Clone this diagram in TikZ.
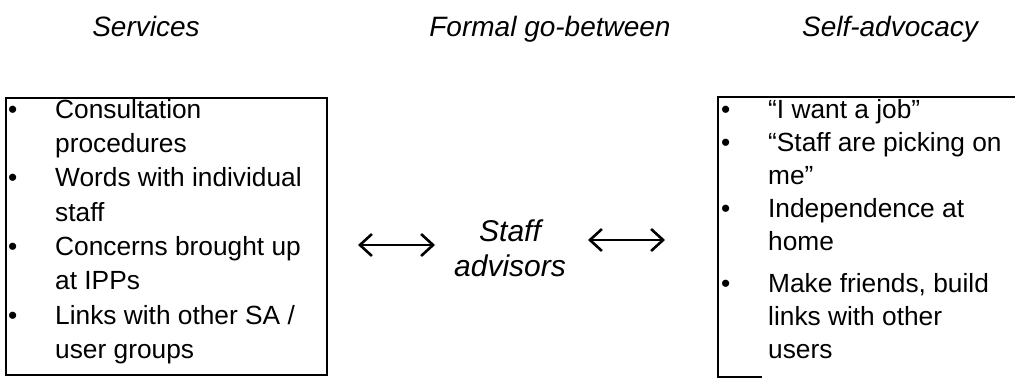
\documentclass[tikz,border=0pt]{standalone}
\usepackage{fontspec}
\setmainfont{Liberation Sans}
\usetikzlibrary{arrows.meta}
\usepackage{array}
\begin{document}
\begin{tikzpicture}[x=1pt,y=-1pt,
  heading/.style={font=\fontsize{28}{32}\selectfont\itshape, inner sep=0pt, anchor=base},
  boxline/.style={line width=1.7pt},
  listtext/.style={inner sep=0pt, anchor=north west, align=left},
  barb/.tip={Straight Barb[length=12pt,width=22pt,line width=2.6pt]},
  twoway/.style={barb-barb, line width=2.6pt}]
\useasboundingbox (0,0) rectangle (1015,380);

% column headings
\node[heading] (h1) at (146,36) {Services};
\node[heading] (h2) at (550,36) {Formal go-between};
\node[heading] (h3) at (890,36) {Self-advocacy};

% services box
\node[draw, boxline, minimum width=321pt, minimum height=277pt, anchor=north west, inner sep=0pt] (lbox) at (5,97) {};
\node[listtext] (ltext) at (8,94) {\fontsize{26.3}{34.3}\selectfont
\begin{tabular}{@{}p{47pt}@{}l@{}}
\textbullet & Consultation\\
 & procedures\\
\textbullet & Words with individual\\
 & staff\\
\textbullet & Concerns brought up\\
 & at IPPs\\
\textbullet & Links with other SA /\\
 & user groups
\end{tabular}};

% self-advocacy box (open on the right)
\coordinate (rtl) at (718,97);
\coordinate (rtr) at (1015,97);
\coordinate (rbl) at (718,377);
\coordinate (rbr) at (762,377);
\draw[boxline] (rtr) -- (rtl) -- (rbl) -- (rbr);
\node[listtext] (rtext) at (721,95) {\fontsize{26.3}{33}\selectfont
\begin{tabular}{@{}p{47pt}@{}l@{}}
\textbullet & ``I want a job''\\
\textbullet & ``Staff are picking on\\
 & me''\\
\textbullet & Independence at\\
 & home\\[9pt]
\textbullet & Make friends, build\\
 & links with other\\
 & users
\end{tabular}};

% go-between
\node[inner sep=0pt, align=center, font=\fontsize{30}{35}\selectfont\itshape] (mid) at (510,248) {Staff\\advisors};

\coordinate (la) at (358,245);
\coordinate (lb) at (435,245);
\coordinate (ra) at (588,240);
\coordinate (rb) at (665,240);
\draw[twoway] (la) -- (lb);
\draw[twoway] (ra) -- (rb);
\end{tikzpicture}
\end{document}
